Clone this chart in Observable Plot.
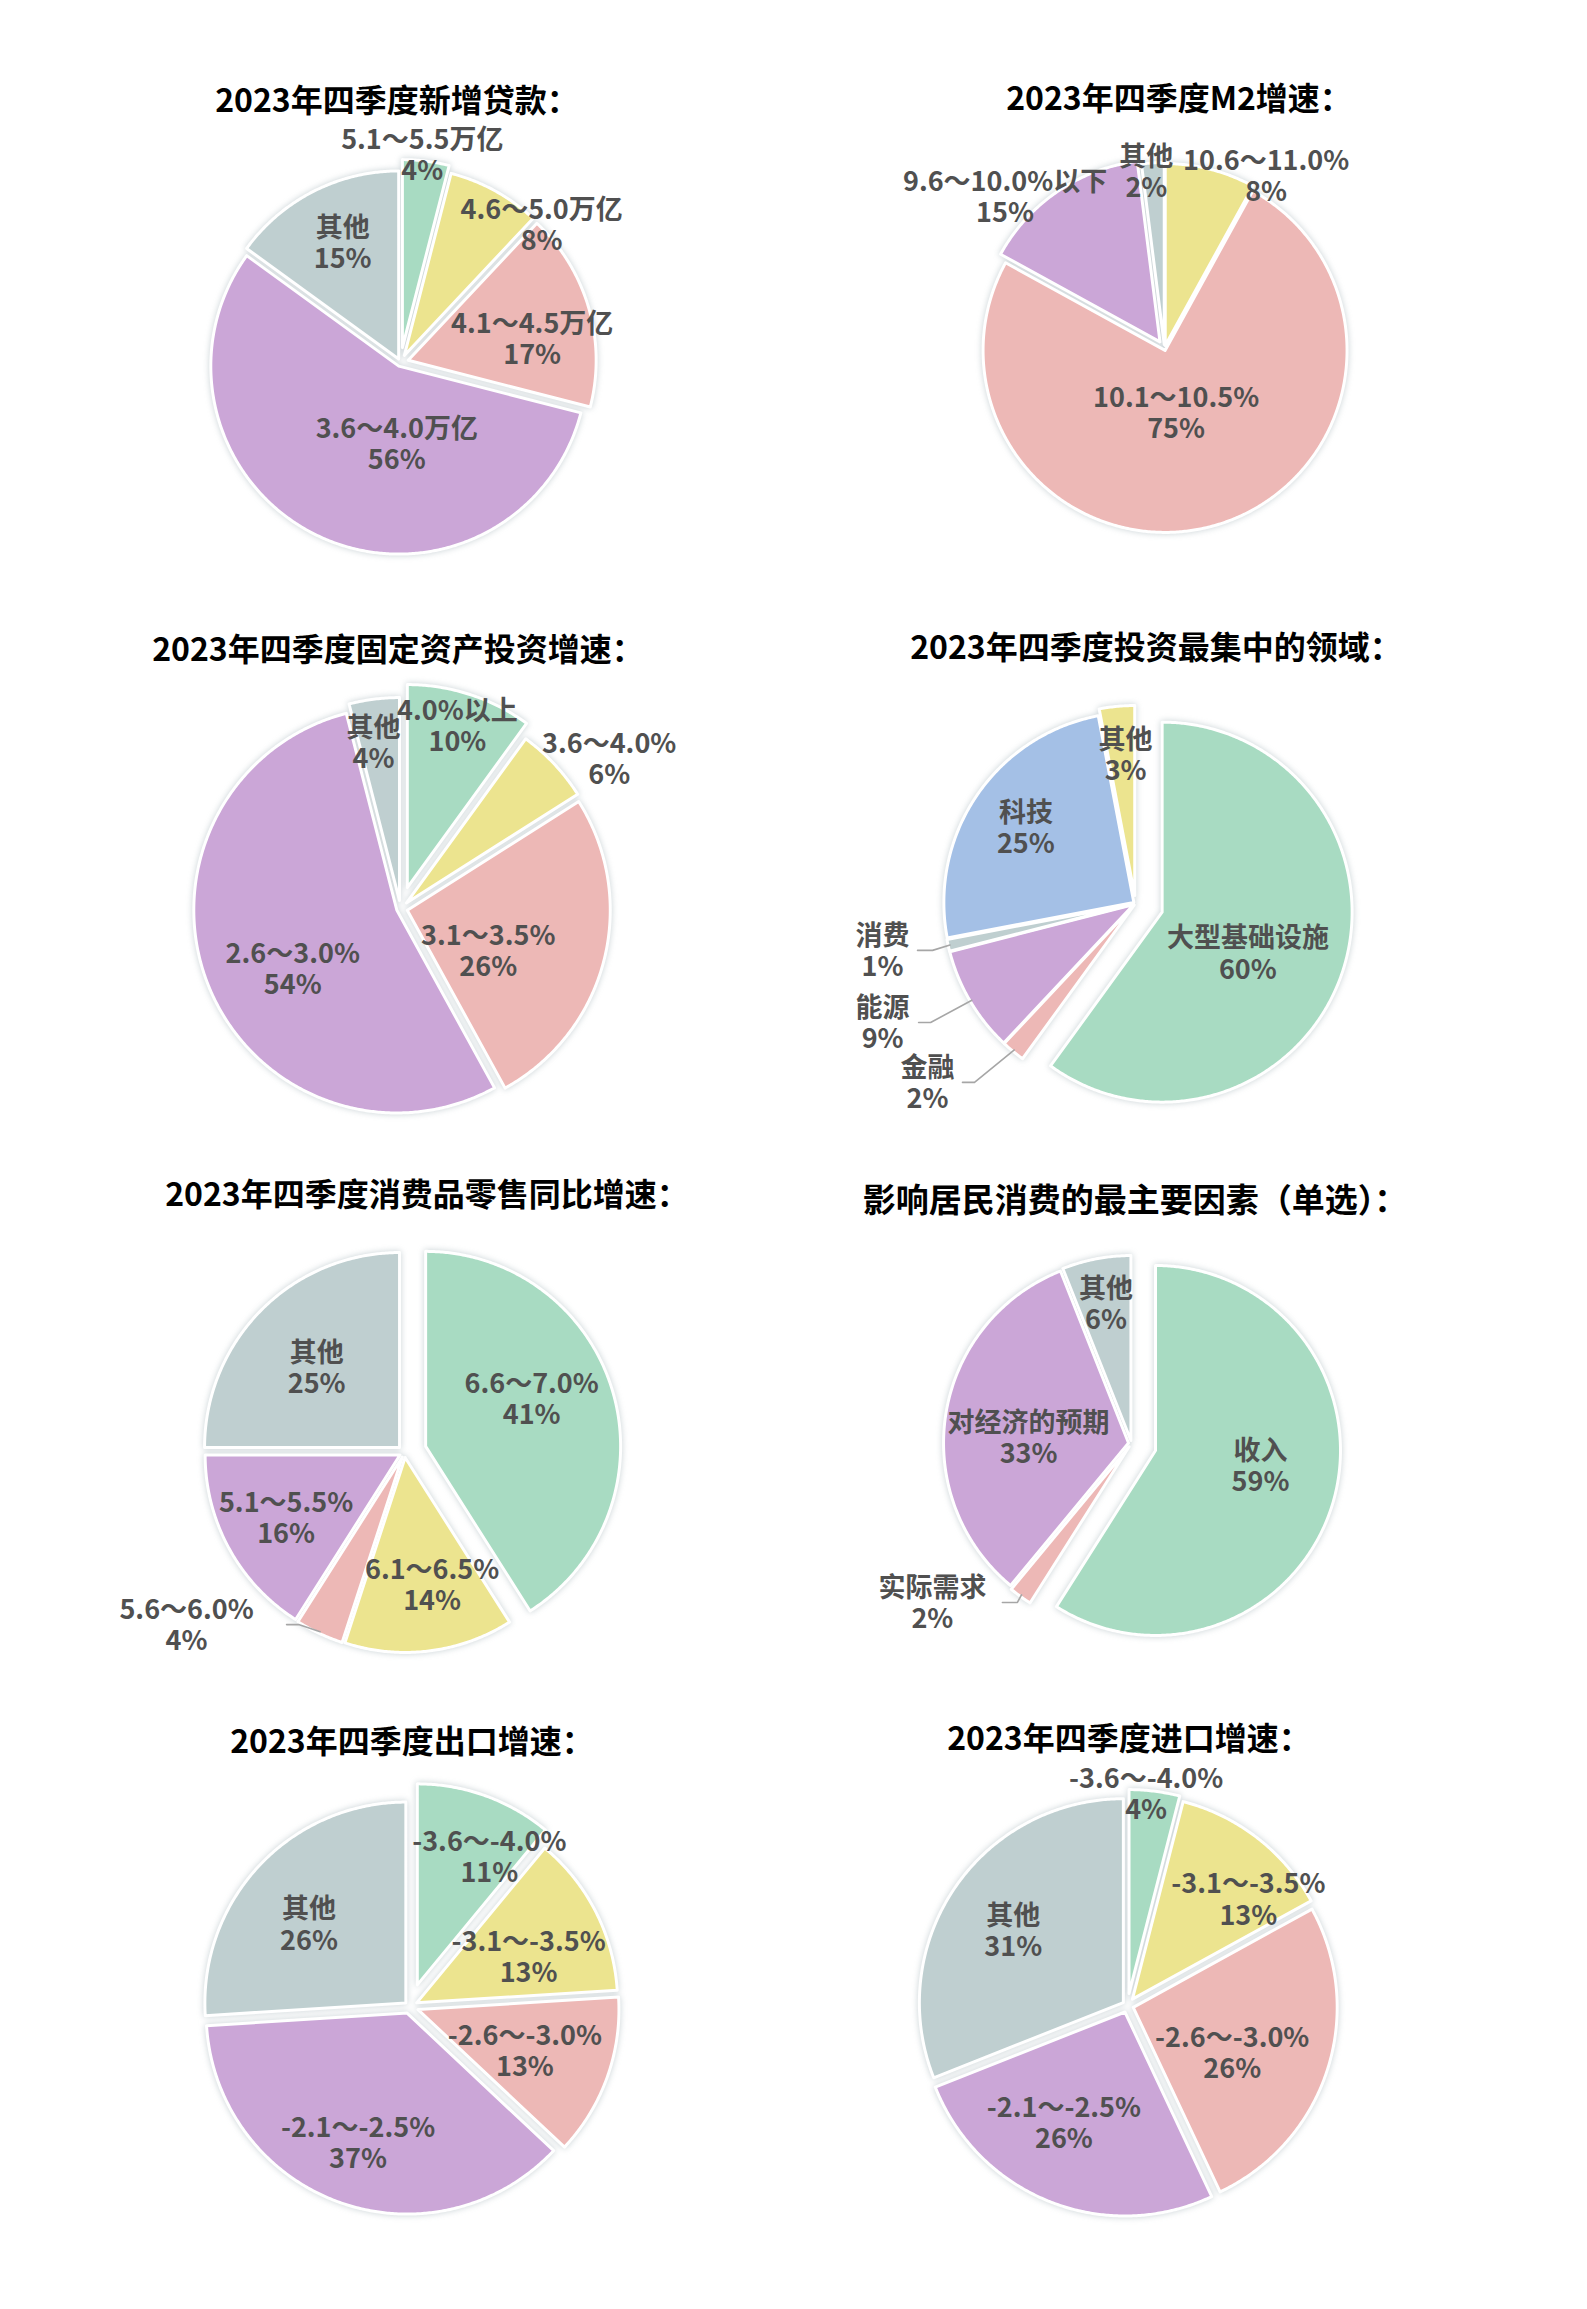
<!DOCTYPE html>
<html><head><meta charset="utf-8">
<script src="https://cdn.jsdelivr.net/npm/d3@7"></script>
<script src="https://cdn.jsdelivr.net/npm/@observablehq/plot@0.6"></script>
<style>
html,body{margin:0;padding:0;background:#fff;}
#page{position:relative;width:1587px;height:2309px;background:#fff;overflow:hidden;font-family:"Noto Sans CJK SC","Noto Sans",sans-serif;}
.title{position:absolute;transform:translate(-50%,-50%);font-weight:700;color:#000;white-space:nowrap;line-height:1;}
.panel{position:absolute;}
.panel svg{overflow:visible;}
</style></head><body><div id="page"></div>
<script>
// ---------------- data ----------------
const loanTitle = "2023年四季度新增贷款：";
const loanCats = ["5.1～5.5万亿", "4.6～5.0万亿", "4.1～4.5万亿", "3.6～4.0万亿", "其他"];
const loanVals = [4, 8, 17, 56, 15];

const m2Title = "2023年四季度M2增速：";
const m2Cats = ["10.6～11.0%", "10.1～10.5%", "9.6～10.0%以下", "其他"];
const m2Vals = [8, 75, 15, 2];

const fixedTitle = "2023年四季度固定资产投资增速：";
const fixedCats = ["4.0%以上", "3.6～4.0%", "3.1～3.5%", "2.6～3.0%", "其他"];
const fixedVals = [10, 6, 26, 54, 4];

const fieldTitle = "2023年四季度投资最集中的领域：";
const fieldCats = ["大型基础设施", "金融", "能源", "消费", "科技", "其他"];
const fieldVals = [60, 2, 9, 1, 25, 3];

const retailTitle = "2023年四季度消费品零售同比增速：";
const retailCats = ["6.6～7.0%", "6.1～6.5%", "5.6～6.0%", "5.1～5.5%", "其他"];
const retailVals = [41, 14, 4, 16, 25];

const factorTitle = "影响居民消费的最主要因素（单选）：";
const factorCats = ["收入", "实际需求", "对经济的预期", "其他"];
const factorVals = [59, 2, 33, 6];

const exportTitle = "2023年四季度出口增速：";
const exportCats = ["-3.6～-4.0%", "-3.1～-3.5%", "-2.6～-3.0%", "-2.1～-2.5%", "其他"];
const exportVals = [11, 13, 13, 37, 26];

const importTitle = "2023年四季度进口增速：";
const importCats = ["-3.6～-4.0%", "-3.1～-3.5%", "-2.6～-3.0%", "-2.1～-2.5%", "其他"];
const importVals = [4, 13, 26, 26, 31];

// ---------------- styles ----------------
const G = "#a8dbc2", Y = "#ece48f", P = "#edb8b6", V = "#cba6d7", S = "#bfcfd0", B = "#a4c0e6";
const FONT = '"Noto Sans CJK SC","Noto Sans",sans-serif';

const charts = [
  {title: loanTitle, cats: loanCats, vals: loanVals, tx: 397, ty: 98, tsize: 32,
   cx: 400, cy: 362, r: 188, left: 0, top: 110,
   colors: [G, Y, P, V, S], explode: [15, 8, 8, 4, 4],
   k: [1.03, 1.01, 0.67, 0.41, 0.685], shift: [-1.3, 17.5, 6.1, -23.7, 1.2], leader: []},
  {title: m2Title, cats: m2Cats, vals: m2Vals, tx: 1179, ty: 96, tsize: 32,
   cx: 1164, cy: 348, r: 182, left: 793, top: 110,
   colors: [Y, P, V, S], explode: [3, 2, 8, 4],
   k: [1.086, 0.346, 1.166, 0.956], shift: [16.3, 6.1, -12.7, -2.3], leader: []},
  {title: fixedTitle, cats: fixedCats, vals: fixedVals, tx: 398, ty: 647, tsize: 32,
   cx: 400, cy: 908, r: 203, left: 0, top: 665,
   colors: [G, Y, P, V, S], explode: [22, 8, 7, 4, 8],
   k: [0.835, 1.226, 0.445, 0.587, 0.79], shift: [-0.8, 7.8, 11.9, -7.6, -2.1], leader: []},
  {title: fieldTitle, cats: fieldCats, vals: fieldVals, tx: 1156, ty: 645, tsize: 32,
   cx: 1135, cy: 903, r: 190, left: 793, top: 665,
   colors: [G, P, V, S, B, Y], explode: [28, 2, 2, 2, 2, 8],
   k: [0.50, 1.444, 1.471, 1.354, 0.692, 0.744], shift: [7.5, 9.7, 5.4, 2.1, 0.6, 1.7],
   leader: [null, [35, 47], [36, 48], [35, 50], null, null]},
  {title: retailTitle, cats: retailCats, vals: retailVals, tx: 427, ty: 1192, tsize: 32,
   cx: 404, cy: 1452, r: 195, left: 0, top: 1215,
   colors: [G, Y, P, V, S], explode: [22, 5, 5, 5, 7],
   k: [0.597, 0.666, 1.424, 0.668, 0.591], shift: [-8.2, -4.8, 26.5, -0.1, -1],
   leader: [null, null, [100, 112], null, null]},
  {title: factorTitle, cats: factorCats, vals: factorVals, tx: 1135, ty: 1198, tsize: 33,
   cx: 1131, cy: 1443, r: 185, left: 793, top: 1215,
   colors: [G, P, V, S], explode: [25, 4, 3, 3],
   k: [0.573, 1.377, 0.541, 0.753], shift: [-8.1, 15.4, -6.1, 0.5],
   leader: [null, [70, 85], null, null]},
  {title: exportTitle, cats: exportCats, vals: exportVals, tx: 412, ty: 1739, tsize: 32,
   cx: 409, cy: 2006, r: 201, left: 0, top: 1755,
   colors: [G, Y, P, V, S], explode: [23, 8, 9, 7, 5],
   k: [0.73, 0.602, 0.57, 0.691, 0.622], shift: [9.6, 4.7, 1.2, 0.9, -4], leader: []},
  {title: importTitle, cats: importCats, vals: importVals, tx: 1129, ty: 1736, tsize: 32,
   cx: 1127, cy: 2005, r: 204, left: 793, top: 1755,
   colors: [G, Y, P, V, S], explode: [12, 8, 6, 7, 5],
   k: [0.984, 0.751, 0.533, 0.621, 0.645], shift: [-2.3, 11.4, 6.4, 7.2, -1], leader: []}
];

const PW = 794, PH = 540;
const page = document.getElementById("page");
const rad = d => d * Math.PI / 180;

for (const c of charts) {
  const t = document.createElement("div");
  t.className = "title";
  t.textContent = c.title;
  t.style.left = c.tx + "px";
  t.style.top = c.ty + "px";
  t.style.fontSize = c.tsize + "px";
  page.appendChild(t);

  const total = d3.sum(c.vals);
  let acc = 0;
  const slices = c.vals.map((v, i) => {
    const a0 = acc / total * 2 * Math.PI; acc += v;
    const a1 = acc / total * 2 * Math.PI;
    const mid = (a0 + a1) / 2, e = c.explode[i] / c.r;
    return {i, v, cat: c.cats[i], a0, a1, mid, ox: e * Math.sin(mid), oy: -e * Math.cos(mid)};
  });

  const poly = [];
  for (const s of slices) {
    poly.push({key: s.i, x: s.ox, y: s.oy, color: c.colors[s.i]});
    const n = Math.max(2, Math.ceil((s.a1 - s.a0) / rad(0.5)));
    for (let j = 0; j <= n; j++) {
      const a = s.a0 + (s.a1 - s.a0) * j / n;
      poly.push({key: s.i, x: s.ox + Math.sin(a), y: s.oy - Math.cos(a), color: c.colors[s.i]});
    }
  }

  const labels = slices.map(s => {
    const a = s.mid + rad(c.shift[s.i]);
    const ld = c.leader[s.i];
    const bx = ld ? 0 : s.ox, by = ld ? 0 : s.oy;
    return {x: bx + c.k[s.i] * Math.sin(a), y: by - c.k[s.i] * Math.cos(a), text: s.cat + "\n" + s.v + "%"};
  });

  const leaders = [];
  slices.forEach((s, idx) => {
    const ld = c.leader[s.i];
    if (!ld) return;
    const L = labels[idx];
    leaders.push({key: s.i, x: L.x + ld[0] / c.r, y: L.y});
    leaders.push({key: s.i, x: L.x + ld[1] / c.r, y: L.y});
    leaders.push({key: s.i, x: s.ox + 0.99 * Math.sin(s.mid), y: s.oy - 0.99 * Math.cos(s.mid)});
  });

  const plot = Plot.plot({
    width: PW, height: PH,
    margin: 0,
    x: {domain: [(c.left - c.cx) / c.r, (c.left + PW - c.cx) / c.r], range: [0, PW], axis: null},
    y: {domain: [(c.top - c.cy) / c.r, (c.top + PH - c.cy) / c.r], range: [0, PH], axis: null},
    color: {type: "identity"},
    style: {background: "transparent", fontFamily: FONT},
    marks: [
      Plot.line(poly, {x: "x", y: "y", z: "key", fill: "color", stroke: "#ffffff", strokeWidth: 3,
        strokeLinejoin: "round", curve: "linear-closed"}),
      Plot.line(leaders, {x: "x", y: "y", z: "key", stroke: "#a6a6a6", strokeWidth: 1.6}),
      Plot.text(labels, {x: "x", y: "y", text: "text", fontSize: 27, fontWeight: 700,
        fill: "#505050", lineHeight: 1.15, textAnchor: "middle", fontFamily: FONT})
    ]
  });
  const g = plot.querySelector('g[aria-label="line"]');
  if (g) g.style.filter = "drop-shadow(0px 0px 3px rgba(100,125,135,0.35))";

  const wrap = document.createElement("div");
  wrap.className = "panel";
  wrap.style.left = c.left + "px";
  wrap.style.top = c.top + "px";
  wrap.appendChild(plot);
  page.appendChild(wrap);
}
</script></body></html>
